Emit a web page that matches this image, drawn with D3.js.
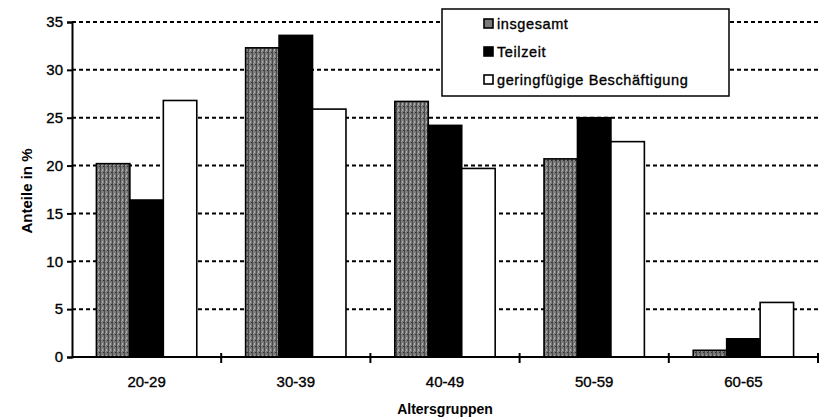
<!DOCTYPE html>
<html><head><meta charset="utf-8">
<script src="https://cdn.jsdelivr.net/npm/d3@7/dist/d3.min.js"></script>
<style>body{margin:0;background:#fff}svg{display:block}text{font-family:"Liberation Sans",Arial,sans-serif;fill:#000}.th{stroke:#000;stroke-width:0.35px}</style>
</head><body><svg id="c" width="839" height="420"></svg>
<script>
const categories = ["20-29","30-39","40-49","50-59","60-65"];
const seriesNames = ["insgesamt","Teilzeit","geringfügige Beschäftigung"];
const insgesamt = [20.2, 32.3, 26.7, 20.7, 0.7];
const teilzeit = [16.4, 33.6, 24.2, 25.0, 1.9];
const geringfuegig = [26.8, 25.9, 19.7, 22.5, 5.7];
const yTicks = [0,5,10,15,20,25,30,35];
const yTitle = "Anteile in %";
const xTitle = "Altersgruppen";

const seriesValues = [insgesamt, teilzeit, geringfuegig];
const fills = ["url(#tex)", "#000", "#fff"];

const svg = d3.select("#c");
const m = {l:72, r:21, t:22, b:63};
const W = 839, H = 420;
const x0 = d3.scaleBand().domain(categories).range([m.l, W-m.r]).padding(0);
const x1 = d3.scaleBand().domain(seriesNames).range([0, x0.bandwidth()]).paddingInner(0).paddingOuter(0.73);
const y = d3.scaleLinear().domain([0,35]).range([H-m.b, m.t]);

const defs = svg.append("defs");
const p = defs.append("pattern").attr("id","tex").attr("patternUnits","userSpaceOnUse").attr("width",4).attr("height",6);
p.append("rect").attr("width",4).attr("height",6).attr("fill","#7a7a7a");
p.append("rect").attr("x",0).attr("width",1).attr("height",6).attr("fill","#4a4a4a");
p.append("rect").attr("x",2).attr("y",1).attr("width",1).attr("height",2).attr("fill","#b0b0b0");
p.append("rect").attr("x",3).attr("y",4).attr("width",1).attr("height",1).attr("fill","#2a2a2a");
p.append("rect").attr("x",1).attr("y",3).attr("width",1).attr("height",1).attr("fill","#a0a0a0");

// gridlines
svg.append("g").selectAll("line").data(yTicks.filter(d=>d>0)).join("line")
  .attr("x1", m.l).attr("x2", W-m.r).attr("y1", d=>y(d)).attr("y2", d=>y(d))
  .attr("stroke","#000").attr("stroke-width",2).attr("stroke-dasharray","4,3");

// bars
const g = svg.append("g");
categories.forEach((c,i)=>{
  seriesNames.forEach((s,j)=>{
    const v = seriesValues[j][i];
    g.append("rect")
      .attr("x", x0(c)+x1(s)).attr("width", x1.bandwidth())
      .attr("y", y(v)).attr("height", y(0)-y(v))
      .attr("fill", fills[j]).attr("stroke","#000").attr("stroke-width",1.6);
  });
});

// y axis
const ya = svg.append("g").attr("transform",`translate(${m.l},0)`)
  .call(d3.axisLeft(y).tickValues(yTicks).tickSize(5).tickPadding(4));
ya.select(".domain").attr("stroke-width",2);
ya.selectAll(".tick line").attr("stroke-width",2);
ya.selectAll("text").attr("font-size",15).attr("class","th").attr("fill","#000");

// x axis
svg.append("line").attr("x1",m.l).attr("x2",W-m.r).attr("y1",y(0)).attr("y2",y(0)).attr("stroke","#000").attr("stroke-width",2);
const bounds = categories.map(c=>x0(c)+x0.bandwidth());
svg.append("g").selectAll("line").data(bounds).join("line")
  .attr("x1",d=>d).attr("x2",d=>d).attr("y1",y(0)-4).attr("y2",y(0)+6)
  .attr("stroke","#000").attr("stroke-width",2);
svg.append("g").selectAll("text").data(categories).join("text")
  .attr("class","th")
  .attr("x",d=>x0(d)+x0.bandwidth()/2).attr("y",y(0)+30)
  .attr("text-anchor","middle").attr("font-size",15).text(d=>d);

svg.append("text").attr("x",(m.l+W-m.r)/2).attr("y",414).attr("text-anchor","middle")
  .attr("font-size",14).attr("font-weight","bold").text(xTitle);
svg.append("text").attr("transform",`translate(32,191) rotate(-90)`)
  .attr("text-anchor","middle").attr("font-size",15).attr("font-weight","bold").text(yTitle);

// legend
const lg = svg.append("g");
lg.append("rect").attr("x",442).attr("y",9).attr("width",287).attr("height",87)
  .attr("fill","#fff").attr("stroke","#000").attr("stroke-width",1.5);
seriesNames.forEach((s,j)=>{
  const ry = 23.5 + j*28;
  lg.append("rect").attr("x",484).attr("y",ry-4.5).attr("width",9).attr("height",9)
    .attr("fill", j===0 ? "#7a7a7a" : fills[j]).attr("stroke","#000").attr("stroke-width",1.6);
  lg.append("text").attr("class","th").attr("x",497).attr("y",ry+5).attr("font-size",14.5)
    .attr("letter-spacing",0.6).text(s);
});
</script></body></html>
